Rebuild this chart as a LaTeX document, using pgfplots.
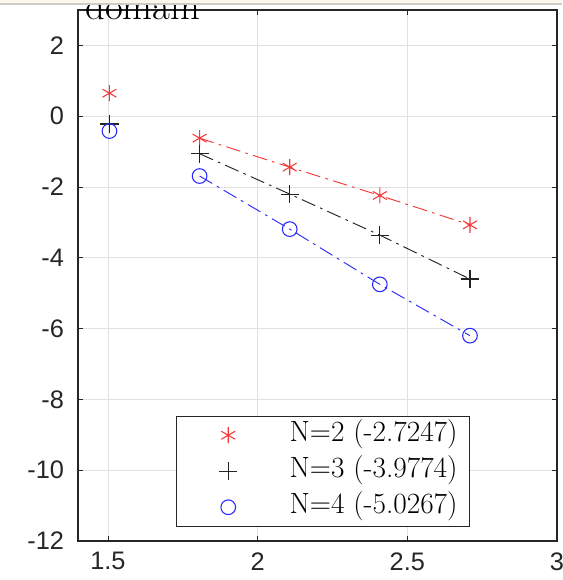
\documentclass[border=0pt]{standalone}
\usepackage{fontspec}
\usepackage{pgfplots}
\pgfplotsset{compat=1.18}
\newfontfamily\arial{Liberation Sans}
\definecolor{axgray}{RGB}{38,38,38}
\definecolor{gridc}{RGB}{225,225,225}
\definecolor{mred}{RGB}{245,55,55}
\definecolor{mblack}{RGB}{35,35,35}
\definecolor{mblue}{RGB}{40,40,250}
\definecolor{beige}{RGB}{253,246,236}
\pgfplotsset{
  legmark/.style={legend image code/.code={\path[draw=none,fill=none] (0pt,0pt) -- (76pt,0pt);\draw[##1] plot coordinates {(32pt,0pt)};}},
}
\begin{document}
\begin{tikzpicture}[x=1pt,y=1pt]
\begin{axis}[
  at={(58.5pt,29.25pt)}, anchor=south west,
  scale only axis, width=359.25pt, height=398.25pt,
  xmin=1.4, xmax=3, ymin=-12, ymax=3,
  xtick={1.5,2,2.5,3}, xticklabels={1.5,2,2.5,3},
  ytick={-12,-10,-8,-6,-4,-2,0,2}, yticklabels={-12,-10,-8,-6,-4,-2,0,2},
  tick align=inside, tick pos=both,
  major tick length=4pt,
  tick style={axgray, line width=0.6pt},
  axis line style={axgray, line width=0.8pt},
  grid=major, major grid style={gridc, line width=0.6pt},
  ticklabel style={font=\arial\fontsize{19}{22}\selectfont, text=axgray},
  /pgf/number format/assume math mode=true,
  yticklabel style={xshift=-7pt},
  xticklabel style={yshift=-5pt},
  legend style={at={(axis description cs:0.8184,0.0264)}, anchor=south east,
    draw=axgray, line width=0.6pt, fill=white,
    font=\fontsize{22}{24}\selectfont, inner xsep=7pt, inner ysep=5pt,
    row sep=8pt,
    nodes={inner xsep=2pt, inner ysep=0pt, text height=14pt, text depth=5pt}},
  legend cell align=left,
]
\addplot[only marks, mark=asterisk, mark size=6pt, mred, line width=0.8pt, legmark]
  coordinates {(1.5051,0.65) (1.8062,-0.62) (2.1072,-1.44) (2.4082,-2.24) (2.7093,-3.07)};
\addlegendentry{N=2 (-2.7247)}
\addplot[only marks, mark=+, mark size=6.8pt, mblack, line width=0.8pt, legmark]
  coordinates {(1.5051,-0.22) (1.8062,-1.06) (2.1072,-2.2) (2.4082,-3.36) (2.7093,-4.6)};
\addlegendentry{N=3 (-3.9774)}
\addplot[only marks, mark=o, mark size=5.5pt, mblue, line width=0.8pt, legmark]
  coordinates {(1.5051,-0.42) (1.8062,-1.69) (2.1072,-3.19) (2.4082,-4.75) (2.7093,-6.2)};
\addlegendentry{N=4 (-5.0267)}
\addplot[forget plot, no marks, mred, line width=0.7pt, dash pattern=on 11pt off 4pt on 2pt off 4pt]
  coordinates {(1.8062,-0.62) (2.1072,-1.44) (2.4082,-2.24) (2.7093,-3.07)};
\addplot[forget plot, no marks, mblack, line width=0.7pt, dash pattern=on 11pt off 4pt on 2pt off 4pt]
  coordinates {(1.8062,-1.06) (2.1072,-2.2) (2.4082,-3.36) (2.7093,-4.6)};
\addplot[forget plot, no marks, mblue, line width=0.7pt, dash pattern=on 11pt off 4pt on 2pt off 4pt]
  coordinates {(1.8062,-1.69) (2.1072,-3.19) (2.4082,-4.75) (2.7093,-6.2)};
\end{axis}
\node[anchor=base west, inner sep=0pt, font=\fontsize{29}{32}\selectfont] at (63.75,420) {domain};
\fill[beige] (0,432) rectangle (421.5,440);
\draw[gray!40, line width=1pt] (0,432) -- (421.5,432);
\pgfresetboundingbox
\path (0,0) rectangle (421.5,435);
\end{tikzpicture}
\end{document}
